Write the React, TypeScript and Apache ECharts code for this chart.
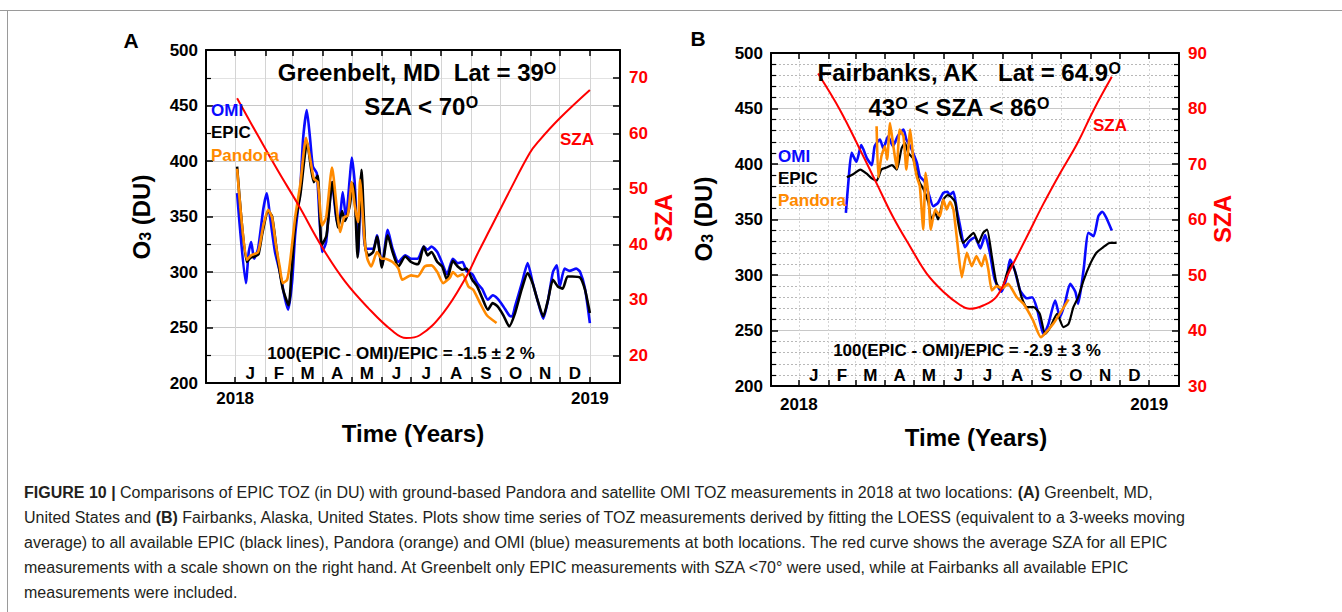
import React, { useEffect, useRef } from 'react';
import * as echarts from 'echarts';

// ---------- data ----------
const monthStarts = [0, 31, 59, 90, 120, 151, 181, 212, 243, 273, 304, 334, 365];
const monthLetters = ['J', 'F', 'M', 'A', 'M', 'J', 'J', 'A', 'S', 'O', 'N', 'D'];
const yearTicks = [0, 365];
const yearLabels = ['2018', '2019'];

// Panel A – Greenbelt (day of 2018, DU)
const omiA: number[][] = [
  [2, 371], [11, 290], [14, 318], [16.5, 327], [19.5, 312], [23.6, 321], [29, 357], [32.6, 371], [36, 349],
  [41, 318], [46, 300], [51, 277], [54.5, 266], [58.6, 291], [61.7, 333], [67, 376], [70, 421], [73.7, 446],
  [77, 421], [80, 395], [84, 389], [87, 345], [89.5, 318], [93.6, 327], [99.7, 381], [105, 345], [108, 351],
  [110.7, 372], [114, 349], [118, 385], [120, 403], [123, 381], [126.5, 315], [129.6, 387], [134, 321],
  [142, 321], [146, 333], [151, 306], [157, 338], [162, 321], [168, 309], [175, 315], [181, 312], [188, 312],
  [194, 323], [198, 320], [202, 323], [208, 318], [213, 308], [218, 298], [224, 312], [229, 308], [234, 309],
  [238, 301], [244, 298], [249, 290], [254, 285], [260, 275], [265, 279], [270, 276], [276, 269], [282, 261],
  [285, 260], [288, 269], [295, 290], [301, 308], [306, 291], [311, 275], [317, 258], [322, 275], [327, 300],
  [331, 306], [334, 287], [339, 303], [344, 301], [351, 303], [355, 300], [360, 285], [365, 254],
];
const epicA: number[][] = [
  [2, 395], [12, 309], [16, 313], [20, 314], [24, 316], [28, 335], [34, 355], [38, 350], [44, 311], [49, 285],
  [55, 270], [58, 300], [62, 345], [67, 369], [74, 417], [78, 394], [81, 381], [85, 387], [89, 324], [94, 333],
  [100, 381], [106, 340], [110, 355], [113, 346], [118, 360], [121, 380], [123, 370], [126, 313], [130, 392],
  [134, 321], [137, 315], [142, 318], [146, 332], [151, 304], [157, 333], [162, 318], [168, 305], [175, 314],
  [181, 309], [188, 307], [190, 310], [194, 323], [198, 315], [202, 318], [208, 309], [213, 305], [218, 293],
  [224, 310], [229, 305], [234, 302], [238, 303], [244, 293], [249, 287], [254, 277], [260, 266], [265, 272],
  [270, 269], [276, 261], [282, 251], [288, 263], [295, 285], [301, 299], [306, 290], [311, 275], [317, 260],
  [322, 275], [327, 293], [332, 287], [337, 285], [342, 296], [347, 296], [355, 295], [360, 284], [365, 263],
];
const pandoraA: number[][] = [
  [2, 393], [12, 311], [16.5, 315], [23.6, 318], [29, 342], [34, 356], [38, 349], [42, 324], [46, 304], [49, 290],
  [53.5, 293], [56.5, 309], [61.7, 349], [67, 379], [73, 421], [77, 403], [81, 384], [85, 381], [89.5, 342],
  [93.6, 349], [99.7, 394], [105, 354], [108, 336], [112, 349], [116, 351], [120, 381], [123, 360], [126.5, 345],
  [128.5, 383], [133, 330], [136, 312], [140, 305], [146, 318], [151, 312], [154, 312], [162, 309], [168, 303],
  [172, 293], [181, 297], [188, 296], [195, 305], [202, 306], [208, 300], [214, 290], [221, 295], [224, 300],
  [229, 296], [234, 298], [240, 287], [245, 284], [252, 272], [259, 261], [269, 254],
];
const szaA: number[][] = [
  [2, 66.3], [24, 59.4], [44.5, 53.1], [65, 47.1], [89, 39.6], [113, 33.3], [137, 28.5], [161, 24.5], [176, 23.1],
  [190, 23.6], [214, 27.6], [238, 34.2], [250, 38.5], [262, 42.6], [283, 49.8], [303, 56.4], [312, 58.5],
  [334, 62.7], [365, 67.8],
];

// Panel B – Fairbanks
const omiB: number[][] = [
  [49, 356], [52, 388], [55, 410], [60, 402], [65, 417], [71, 405], [76, 399], [79, 416], [84.5, 422], [88, 414],
  [93, 425], [98, 416], [103, 425], [109, 431], [112, 422], [116, 416], [119, 410], [123, 401], [126, 389],
  [131, 384], [135, 374], [140, 362], [145, 365], [150.5, 374], [155, 375], [157, 372], [161, 375], [164.5, 359],
  [168, 344], [173, 325], [178, 331], [183.5, 334], [189, 324], [194, 336], [199, 320], [204, 296], [211, 285],
  [216.6, 298], [220, 314], [225, 304], [230.5, 286], [237.5, 279], [243, 280], [248, 270], [255, 246],
  [260, 256], [267, 277], [272, 262], [277, 274], [282.6, 292], [288, 285], [291, 274], [296.5, 304],
  [301.7, 338], [307, 335], [312, 353], [316, 357], [320, 352], [326, 340],
];
const epicB: number[][] = [
  [50, 388], [57, 391], [64, 395], [71, 391], [76, 387], [81, 385], [86, 395], [92, 397], [97, 399], [102, 395],
  [107, 414], [110.5, 419], [114, 410], [119, 405], [123, 391], [126, 383], [130, 377], [135, 365], [138, 350],
  [142, 356], [145, 350], [150.5, 368], [155, 372], [159, 370], [163, 365], [166, 347], [171, 329], [177, 334],
  [182, 338], [187, 329], [192, 338], [196, 341], [201, 317], [206, 292], [211, 287], [217, 302], [222, 310],
  [227, 298], [232, 280], [237.5, 271], [244.5, 271], [251, 265], [256.5, 247], [262, 253], [269, 265],
  [275.6, 253], [281, 256], [286, 271], [291, 280], [296.5, 295], [303.5, 310], [310, 320], [317, 325],
  [324, 329], [331, 329],
];
const pandoraB: number[][] = [
  [81, 434], [82.7, 388], [86, 407], [89.7, 416], [92, 404], [95, 437], [98, 419], [102, 396], [105, 431],
  [109, 425], [112, 395], [116, 431], [119, 407], [123, 388], [126, 380], [129.6, 341], [132, 392], [135, 371],
  [137.4, 341], [142, 359], [147, 353], [150.5, 368], [154, 359], [157.5, 366], [161, 359], [164.5, 334],
  [169.7, 298], [175, 320], [180, 308], [185, 317], [190.4, 308], [194, 318], [197.4, 305], [201, 286],
  [206, 290], [212, 288], [218, 292], [227, 280], [234, 274], [244, 259], [252, 244], [265, 256], [281, 278],
];
const szaB: number[][] = [
  [20, 86.3], [43, 79.7], [64, 72.5], [81, 66.5], [98, 60.5], [116, 55.1], [133, 50.3], [150.5, 47.0],
  [168, 44.6], [178, 43.9], [192, 44.5], [206, 46.1], [220, 50.9], [237.5, 56.9], [255, 62.9], [272, 68.3],
  [290, 73.7], [307, 79.7], [326, 85.7],
];

const captionLines = [
  '{b|FIGURE 10 |} Comparisons of EPIC TOZ (in DU) with ground-based Pandora and satellite OMI TOZ measurements in 2018 at two locations: {b|(A)} Greenbelt, MD,',
  'United States and {b|(B)} Fairbanks, Alaska, United States. Plots show time series of TOZ measurements derived by fitting the LOESS (equivalent to a 3-weeks moving',
  'average) to all available EPIC (black lines), Pandora (orange) and OMI (blue) measurements at both locations. The red curve shows the average SZA for all EPIC',
  'measurements with a scale shown on the right hand. At Greenbelt only EPIC measurements with SZA <70\u00b0 were used, while at Fairbanks all available EPIC',
  'measurements were included.',
];

// ---------- styling ----------
const FONT = '"Liberation Sans", Arial, Helvetica, sans-serif';
const BLUE = '#0a0aff';
const ORANGE = '#ff8a00';
const RED = '#ff0000';
const midMonths = monthLetters.map((_, i) => (monthStarts[i] + monthStarts[i + 1]) / 2);

function xAxes(gridIndex: number, min: number, max: number, yearMargin: number, monthMargin: number, dashed: boolean) {
  const axisLine = { show: true, onZero: false, lineStyle: { color: '#000', width: 2 } };
  return [
    {
      type: 'value', gridIndex, position: 'bottom', min, max,
      axisLine,
      axisTick: { show: true, inside: true, length: 6, customValues: monthStarts, lineStyle: { color: '#000', width: 1.5 } },
      axisLabel: {
        show: true, customValues: yearTicks, margin: yearMargin,
        formatter: (v: number) => yearLabels[yearTicks.indexOf(v)] ?? '',
        fontSize: 17, fontWeight: 'bold', color: '#000', fontFamily: FONT,
      },
      splitLine: { show: true, lineStyle: { color: '#d4d4d4', width: 1, type: dashed ? [2, 2] : 'solid' } },
    },
    {
      type: 'value', gridIndex, position: 'bottom', min, max,
      axisLine: { show: false }, axisTick: { show: false }, splitLine: { show: false },
      axisLabel: {
        show: true, inside: true, customValues: midMonths, margin: monthMargin,
        formatter: (v: number) => monthLetters[midMonths.indexOf(v)] ?? '',
        fontSize: 17, fontWeight: 'bold', color: '#000', fontFamily: FONT,
      },
    },
    {
      type: 'value', gridIndex, position: 'top', min, max,
      axisLine,
      axisTick: { show: true, inside: true, length: 6, customValues: monthStarts, lineStyle: { color: '#000', width: 1.5 } },
      axisLabel: { show: false }, splitLine: { show: false },
    },
  ];
}

function yAxes(gridIndex: number, minorSplit: number, dashed: boolean, rMin: number, rMax: number, rInterval: number, rMinor: number) {
  const axisLine = { show: true, onZero: false, lineStyle: { color: '#000', width: 2 } };
  return [
    {
      type: 'value', gridIndex, position: 'left', min: 200, max: 500, interval: 50,
      axisLine,
      axisTick: { show: true, inside: true, length: 7, lineStyle: { color: '#000', width: 1.5 } },
      minorTick: { show: true, splitNumber: minorSplit, length: 5, lineStyle: { color: '#000', width: 1.2 } },
      axisLabel: { margin: 8, fontSize: 17, fontWeight: 'bold', color: '#000', fontFamily: FONT },
      splitLine: { show: true, lineStyle: { color: '#c8c8c8', width: 1.2 } },
      minorSplitLine: { show: true, lineStyle: { color: dashed ? '#b8b8b8' : '#e2e2e2', width: 1, type: dashed ? [2, 2] : 'solid' } },
    },
    {
      type: 'value', gridIndex, position: 'right', min: rMin, max: rMax, interval: rInterval,
      axisLine,
      axisTick: { show: true, inside: true, length: 7, lineStyle: { color: '#000', width: 1.5 } },
      minorTick: { show: rMinor > 1, splitNumber: rMinor, length: 5, lineStyle: { color: '#000', width: 1.2 } },
      axisLabel: {
        margin: 9, fontSize: 17, fontWeight: 'bold', color: RED, fontFamily: FONT,
        formatter: (v: number) => (v % 10 === 0 ? String(v) : ''),
      },
      splitLine: { show: false },
    },
  ];
}

function line(data: number[][], color: string, xi: number, yi: number, width: number, smooth: number) {
  return {
    type: 'line', data, xAxisIndex: xi, yAxisIndex: yi, showSymbol: false, symbol: 'none',
    smooth, lineStyle: { color, width }, clip: true, silent: true,
  };
}

function txt(x: number, y: number, text: string, size: number, color: string, align = 'center', extra: any = {}) {
  return {
    type: 'text', x, y, z: 100, ...extra,
    style: {
      text, fill: color, fontSize: size, fontWeight: 'bold', fontFamily: FONT,
      align, verticalAlign: 'middle', textAlign: align, textVerticalAlign: 'middle',
      rich: {
        sup: { fontSize: Math.round(size * 0.68), fontWeight: 'bold', fontFamily: FONT, fill: color, verticalAlign: 'top', lineHeight: Math.round(size * 0.9) },
        sub: { fontSize: Math.round(size * 0.68), fontWeight: 'bold', fontFamily: FONT, fill: color, verticalAlign: 'bottom', lineHeight: Math.round(size * 1.0) },
      },
    },
  };
}

const option: any = {
  animation: false,
  backgroundColor: '#fff',
  grid: [
    { left: 206, top: 50, width: 414, height: 333, containLabel: false },
    { left: 771, top: 53, width: 408, height: 333, containLabel: false },
  ],
  xAxis: [...xAxes(0, -30, 396, 7, 1, false), ...xAxes(1, -29, 396, 10, 2, true)],
  yAxis: [...yAxes(0, 2, false, 15, 75, 5, 0), ...yAxes(1, 5, true, 30, 90, 10, 5)],
  series: [
    line(omiA, BLUE, 0, 0, 2.6, 0.2),
    line(epicA, '#000', 0, 0, 2.6, 0.2),
    line(pandoraA, ORANGE, 0, 0, 2.6, 0.2),
    line(szaA, RED, 0, 1, 2, 0.4),
    line(omiB, BLUE, 3, 2, 2.6, 0.2),
    line(epicB, '#000', 3, 2, 2.2, 0.2),
    line(pandoraB, ORANGE, 3, 2, 2.6, 0.15),
    line(szaB, RED, 3, 3, 2, 0.4),
  ],
  graphic: [
    // frame
    { type: 'line', shape: { x1: 0, y1: 10.5, x2: 1342, y2: 10.5 }, style: { stroke: '#9a9a9a', lineWidth: 1 } },
    { type: 'line', shape: { x1: 7.5, y1: 10, x2: 7.5, y2: 612 }, style: { stroke: '#9a9a9a', lineWidth: 1 } },
    // panel letters
    txt(131, 40, 'A', 21, '#000'),
    txt(698, 38, 'B', 21, '#000'),
    // titles A
    txt(417, 72, 'Greenbelt, MD  Lat = 39{sup|O}', 24, '#000'),
    txt(421, 106, 'SZA < 70{sup|O}', 24, '#000'),
    // titles B
    txt(969, 72, 'Fairbanks, AK   Lat = 64.9{sup|O}', 24, '#000'),
    txt(959, 107, '43{sup|O} < SZA < 86{sup|O}', 24, '#000'),
    // legends A
    txt(211, 110, 'OMI', 17, BLUE, 'left'),
    txt(211, 132, 'EPIC', 17, '#000', 'left'),
    txt(211, 155, 'Pandora', 17, ORANGE, 'left'),
    // legends B
    txt(778, 156, 'OMI', 17, BLUE, 'left'),
    txt(778, 178, 'EPIC', 17, '#000', 'left'),
    txt(778, 200, 'Pandora', 17, ORANGE, 'left'),
    // SZA labels
    txt(577, 139, 'SZA', 17, RED),
    txt(1110, 125, 'SZA', 17, RED),
    // stats
    txt(401, 353, '100(EPIC - OMI)/EPIC = -1.5 \u00b1 2 %', 17, '#000'),
    txt(967, 350, '100(EPIC - OMI)/EPIC = -2.9 \u00b1 3 %', 17, '#000'),
    // y-axis names
    txt(141, 217, 'O{sub|3} (DU)', 24, '#000', 'center', { rotation: Math.PI / 2 }),
    txt(703, 219, 'O{sub|3} (DU)', 24, '#000', 'center', { rotation: Math.PI / 2 }),
    txt(663, 218, 'SZA', 24, RED, 'center', { rotation: Math.PI / 2 }),
    txt(1222, 219, 'SZA', 24, RED, 'center', { rotation: Math.PI / 2 }),
    // x-axis names
    txt(413, 433, 'Time (Years)', 24, '#000'),
    txt(976, 437, 'Time (Years)', 24, '#000'),
    // caption
    ...captionLines.map((t, i) => ({
      type: 'text', x: 24, y: 492 + i * 25, z: 100,
      style: {
        text: t, fill: '#231f20', fontSize: 16, fontFamily: FONT, fontWeight: 'normal',
        align: 'left', verticalAlign: 'middle', textAlign: 'left', textVerticalAlign: 'middle',
        rich: { b: { fontSize: 16, fontWeight: 'bold', fontFamily: FONT, fill: '#231f20' } },
      },
    })),
  ],
};

export default function App() {
  const ref = useRef<HTMLDivElement>(null);
  useEffect(() => {
    const chart = echarts.init(ref.current!, null, { renderer: 'svg', width: 1342, height: 612 });
    chart.setOption(option);
    return () => chart.dispose();
  }, []);
  return (
    <div
      ref={ref}
      style={{ position: 'fixed', left: 0, top: 0, width: 1342, height: 612, background: '#fff' }}
    />
  );
}
